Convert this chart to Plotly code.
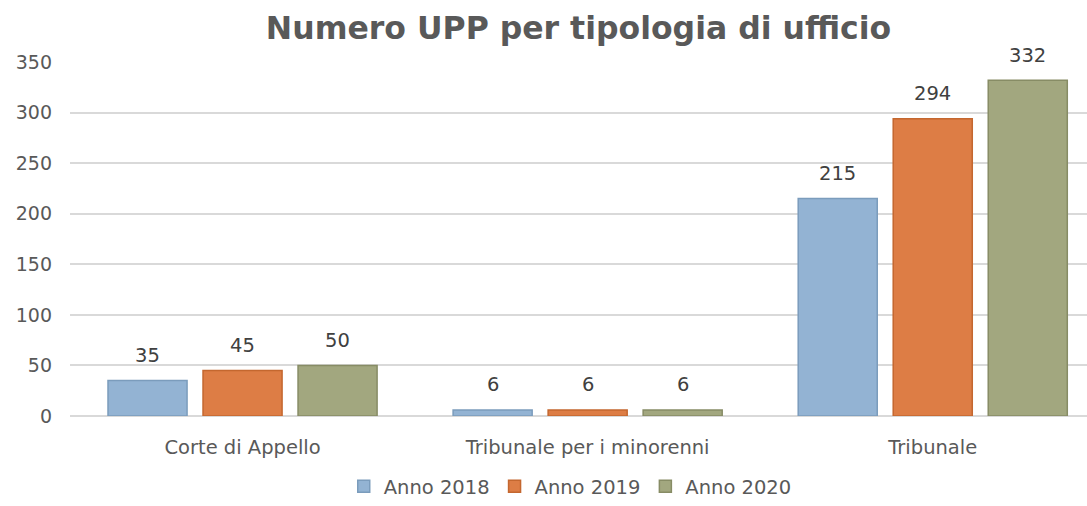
import plotly.graph_objects as go

categories = ["Corte di Appello", "Tribunale per i minorenni", "Tribunale"]
series_names = ["Anno 2018", "Anno 2019", "Anno 2020"]
values_2018 = [35, 6, 215]
values_2019 = [45, 6, 294]
values_2020 = [50, 6, 332]
y_ticks = [0, 50, 100, 150, 200, 250, 300, 350]

colors = ["#93b3d3", "#dd7d45", "#a2a77f"]
line_colors = ["#7b9cbc", "#c4672f", "#878c65"]

FONT = "DejaVu Sans"
TXT = "#595959"

all_series = [values_2018, values_2019, values_2020]
slot = 0.2754  # width of one bar slot in category units

fig = go.Figure()
for name, vals, c, lc in zip(series_names, all_series, colors, line_colors):
    fig.add_trace(go.Bar(
        x=categories, y=vals, name=name,
        marker=dict(color=c, line=dict(color=lc, width=1.5)),
    ))

annotations = []
for s, vals in enumerate(all_series):
    for i, v in enumerate(vals):
        annotations.append(dict(
            x=i + (s - 1) * slot, y=v, xref="x", yref="y",
            text=str(v), showarrow=False, yanchor="middle", yshift=25,
            font=dict(size=19.5, color="#404040", family=FONT),
        ))

fig.update_layout(
    width=1087, height=506,
    margin=dict(l=70, r=0, t=62, b=90),
    paper_bgcolor="white", plot_bgcolor="white",
    font=dict(family=FONT, color=TXT, size=18),
    title=dict(text="<b>Numero UPP per tipologia di ufficio</b>", x=0.5, xref="paper",
               xanchor="center", y=1 - 28 / 506, yref="container", yanchor="middle",
               font=dict(size=31.5, color=TXT, family=FONT)),
    barmode="group", bargap=0.174, bargroupgap=0.168,
    showlegend=True,
    legend=dict(orientation="h", x=0.5246, xanchor="center", xref="container",
                y=0, yref="container", yanchor="bottom",
                font=dict(size=19.5, color=TXT), itemwidth=30, traceorder="normal"),
    annotations=annotations,
    xaxis=dict(range=[-0.5, 2.447], showgrid=False, showline=False, ticks="",
               automargin=False, ticklabelstandoff=17,
               tickfont=dict(size=19.5, color=TXT)),
    yaxis=dict(range=[0, 350], tickvals=y_ticks, showgrid=True, gridcolor="#d9d9d9",
               gridwidth=1.5, zeroline=True, zerolinecolor="#d9d9d9", zerolinewidth=1.5,
               showline=False, ticks="", ticklabelstandoff=17, automargin=False,
               tickfont=dict(size=19, color=TXT)),
)

fig.write_html("out.html", config={"displayModeBar": False},
               post_script="document.body.style.margin='0';")
